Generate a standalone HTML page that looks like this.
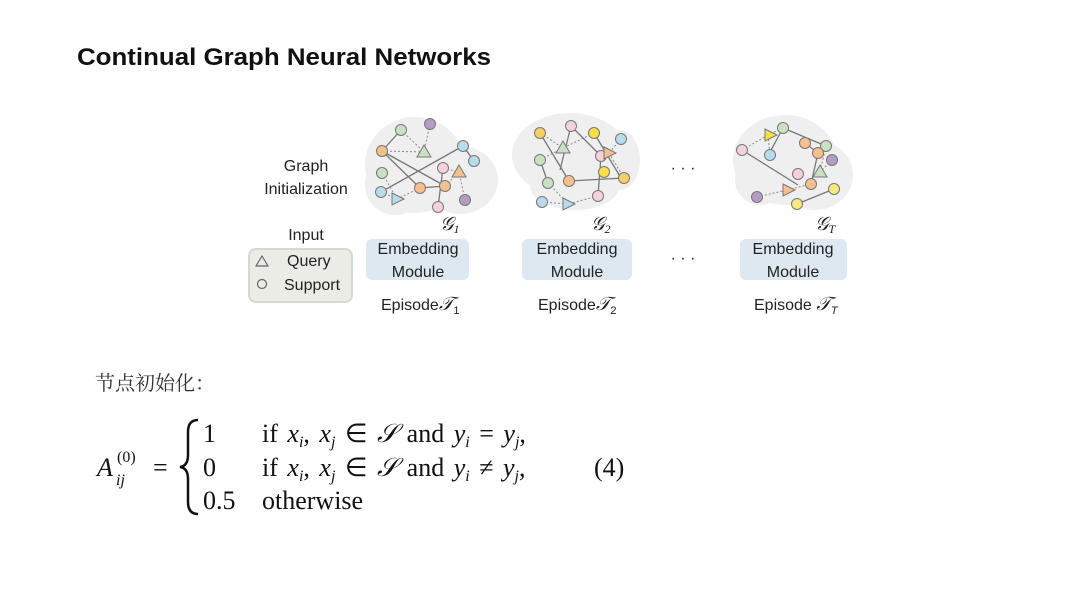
<!DOCTYPE html>
<html><head><meta charset="utf-8"><style>
html,body{margin:0;padding:0;background:#fff;width:1080px;height:608px;overflow:hidden}
</style></head><body>
<svg width="1080" height="608" viewBox="0 0 1080 608" xmlns="http://www.w3.org/2000/svg" font-family="Liberation Sans, sans-serif">
<rect width="1080" height="608" fill="#fff"/>
<text x="77" y="65" font-size="24" font-weight="bold" fill="#111" textLength="414" lengthAdjust="spacingAndGlyphs">Continual Graph Neural Networks</text>

<!-- blobs -->
<g fill="#efefef">
<ellipse cx="415" cy="165" rx="50" ry="48"/><ellipse cx="460" cy="180" rx="38" ry="34"/><ellipse cx="395" cy="185" rx="30" ry="30"/>
<ellipse cx="570" cy="155" rx="58" ry="42"/><ellipse cx="575" cy="185" rx="45" ry="25"/><ellipse cx="620" cy="160" rx="20" ry="30"/>
<ellipse cx="785" cy="160" rx="52" ry="45"/><ellipse cx="815" cy="175" rx="38" ry="35"/><ellipse cx="760" cy="180" rx="25" ry="25"/>
</g>

<!-- graph 1 edges -->
<g stroke="#777" stroke-width="1.3" fill="none">
<line x1="382" y1="151" x2="420" y2="188"/><line x1="382" y1="151" x2="401" y2="130"/><line x1="381" y1="192" x2="463" y2="146"/>
<line x1="463" y1="146" x2="474" y2="161"/><line x1="420" y1="188" x2="445" y2="186"/><line x1="438" y1="207" x2="443" y2="168"/>
<line x1="382" y1="151" x2="445" y2="186"/>
</g>
<g stroke="#888" stroke-width="1" stroke-dasharray="2,2" fill="none">
<line x1="401" y1="130" x2="424" y2="152"/><line x1="430" y1="124" x2="424" y2="152"/><line x1="382" y1="151" x2="424" y2="152"/>
<line x1="382" y1="173" x2="397" y2="199"/><line x1="381" y1="192" x2="397" y2="199"/><line x1="420" y1="188" x2="397" y2="199"/>
<line x1="443" y1="168" x2="459" y2="172"/><line x1="445" y1="186" x2="459" y2="172"/><line x1="465" y1="200" x2="459" y2="172"/>
</g>
<g stroke="#777" stroke-width="1">
<circle cx="401" cy="130" r="5.5" fill="#c8e2c0"/><circle cx="430" cy="124" r="5.5" fill="#b49cc4"/><circle cx="382" cy="151" r="5.5" fill="#f6c08c"/>
<circle cx="463" cy="146" r="5.5" fill="#b6dcee"/><circle cx="474" cy="161" r="5.5" fill="#b6dcee"/><circle cx="382" cy="173" r="5.5" fill="#c8e2c0"/>
<circle cx="443" cy="168" r="5.5" fill="#f6d0dc"/><circle cx="381" cy="192" r="5.5" fill="#b6dcee"/><circle cx="420" cy="188" r="5.5" fill="#f6c08c"/>
<circle cx="445" cy="186" r="5.5" fill="#f6c08c"/><circle cx="438" cy="207" r="5.5" fill="#f6d0dc"/><circle cx="465" cy="200" r="5.5" fill="#b49cc4"/>
<polygon points="424,145 431,157 417,157" fill="#c8e2c0"/><polygon points="459,165 466,177 452,177" fill="#f6c08c"/><polygon points="392,193 404,199 392,205" fill="#b6dcee"/>
</g>

<!-- graph 2 -->
<g stroke="#777" stroke-width="1.3" fill="none">
<line x1="571" y1="126" x2="601" y2="156"/><line x1="594" y1="133" x2="621" y2="178"/><line x1="540" y1="160" x2="548" y2="183"/>
<line x1="540" y1="133" x2="569" y2="181"/><line x1="569" y1="181" x2="624" y2="178"/><line x1="601" y1="156" x2="598" y2="196"/><line x1="571" y1="126" x2="560" y2="170"/>
</g>
<g stroke="#888" stroke-width="1" stroke-dasharray="2,2" fill="none">
<line x1="540" y1="133" x2="563" y2="148"/><line x1="540" y1="160" x2="563" y2="148"/><line x1="594" y1="133" x2="563" y2="148"/>
<line x1="621" y1="139" x2="609" y2="153"/><line x1="609" y1="153" x2="624" y2="178"/><line x1="542" y1="202" x2="568" y2="204"/><line x1="548" y1="183" x2="568" y2="204"/><line x1="598" y1="196" x2="568" y2="204"/>
</g>
<g stroke="#777" stroke-width="1">
<circle cx="540" cy="133" r="5.5" fill="#f8d060"/><circle cx="571" cy="126" r="5.5" fill="#f6d0dc"/><circle cx="594" cy="133" r="5.5" fill="#f8e040"/>
<circle cx="621" cy="139" r="5.5" fill="#b6dcee"/><circle cx="601" cy="156" r="5.5" fill="#f6d0dc"/><circle cx="540" cy="160" r="5.5" fill="#c8e2c0"/>
<circle cx="548" cy="183" r="5.5" fill="#c8e2c0"/><circle cx="569" cy="181" r="5.5" fill="#f6c08c"/><circle cx="604" cy="172" r="5.5" fill="#f8e040"/>
<circle cx="624" cy="178" r="5.5" fill="#f8d060"/><circle cx="598" cy="196" r="5.5" fill="#f6d0dc"/><circle cx="542" cy="202" r="5.5" fill="#b6dcee"/>
<polygon points="563,141 570,153 556,153" fill="#c8e2c0"/><polygon points="604,147 616,153 604,159" fill="#f6c08c"/><polygon points="563,198 575,204 563,210" fill="#b6dcee"/>
</g>

<!-- graph T -->
<g stroke="#777" stroke-width="1.3" fill="none">
<line x1="783" y1="128" x2="826" y2="146"/><line x1="742" y1="150" x2="798" y2="185"/><line x1="805" y1="143" x2="818" y2="153"/>
<line x1="818" y1="153" x2="811" y2="184"/><line x1="834" y1="189" x2="797" y2="204"/><line x1="783" y1="128" x2="770" y2="152"/>
</g>
<g stroke="#888" stroke-width="1" stroke-dasharray="2,2" fill="none">
<line x1="742" y1="150" x2="768" y2="135"/><line x1="783" y1="128" x2="768" y2="135"/><line x1="768" y1="135" x2="770" y2="155"/>
<line x1="757" y1="197" x2="787" y2="190"/><line x1="787" y1="190" x2="811" y2="184"/><line x1="826" y1="146" x2="820" y2="172"/><line x1="832" y1="160" x2="820" y2="172"/>
</g>
<g stroke="#777" stroke-width="1">
<circle cx="783" cy="128" r="5.5" fill="#c8e2c0"/><circle cx="805" cy="143" r="5.5" fill="#f6c08c"/><circle cx="826" cy="146" r="5.5" fill="#c8e2c0"/>
<circle cx="742" cy="150" r="5.5" fill="#f6d0dc"/><circle cx="770" cy="155" r="5.5" fill="#b6dcee"/><circle cx="818" cy="153" r="5.5" fill="#f6c08c"/>
<circle cx="832" cy="160" r="5.5" fill="#b49cc4"/><circle cx="798" cy="174" r="5.5" fill="#f6d0dc"/><circle cx="811" cy="184" r="5.5" fill="#f6c08c"/>
<circle cx="834" cy="189" r="5.5" fill="#f8e880"/><circle cx="757" cy="197" r="5.5" fill="#b49cc4"/><circle cx="797" cy="204" r="5.5" fill="#f8e880"/>
<polygon points="765,129 777,135 765,141" fill="#f8e040"/><polygon points="820,165 827,177 813,177" fill="#c8e2c0"/><polygon points="783,184 795,190 783,196" fill="#f6c08c"/>
</g>

<g font-size="16" fill="#222" text-anchor="middle">
<text x="306" y="171">Graph</text><text x="306" y="194">Initialization</text>
<text x="306" y="240">Input</text>
</g>
<g font-family="Liberation Serif, serif" font-style="italic" font-size="19" fill="#222">
<text x="440" y="230">𝒢<tspan font-size="12" dy="3">1</tspan></text>
<text x="591" y="230">𝒢<tspan font-size="12" dy="3">2</tspan></text>
<text x="815" y="230">𝒢<tspan font-size="12" dy="3">T</tspan></text>
</g>
<rect x="249" y="249" width="103" height="53" rx="7" fill="#ececE6" stroke="#d8d8d0" stroke-width="2"/>
<polygon points="262,256 268,266 256,266" fill="none" stroke="#666" stroke-width="1.2"/>
<circle cx="262" cy="284" r="4.5" fill="none" stroke="#666" stroke-width="1.2"/>
<g font-size="16" fill="#222">
<text x="287" y="266">Query</text><text x="284" y="290">Support</text>
</g>
<g fill="#dde8f0">
<rect x="366" y="239" width="103" height="41" rx="6"/><rect x="522" y="239" width="110" height="41" rx="6"/><rect x="740" y="239" width="107" height="41" rx="6"/>
</g>
<g font-size="16" fill="#222" text-anchor="middle">
<text x="418" y="254">Embedding</text><text x="418" y="277">Module</text>
<text x="577" y="254">Embedding</text><text x="577" y="277">Module</text>
<text x="793" y="254">Embedding</text><text x="793" y="277">Module</text>
<text x="683" y="173">· · ·</text><text x="683" y="263">· · ·</text>
</g>
<g font-size="16" fill="#222">
<text x="381" y="310">Episode<tspan font-family="Liberation Serif, serif" font-style="italic" font-size="19">𝒯</tspan><tspan font-size="11" dy="4">1</tspan></text>
<text x="538" y="310">Episode<tspan font-family="Liberation Serif, serif" font-style="italic" font-size="19">𝒯</tspan><tspan font-size="11" dy="4">2</tspan></text>
<text x="754" y="310">Episode <tspan font-family="Liberation Serif, serif" font-style="italic" font-size="19">𝒯</tspan><tspan font-size="11" dy="4" font-style="italic">T</tspan></text>
</g>

<text x="95" y="390" font-size="20" fill="#333" font-family="Noto Serif CJK SC, serif">节点初始化：</text>

<g font-family="Liberation Serif, serif" font-size="26" fill="#111">
<text x="97" y="476" font-style="italic">A</text>
<text x="117" y="462" font-size="16">(0)</text>
<text x="116" y="485" font-size="16" font-style="italic">ij</text>
<text x="153" y="476">=</text>
<path d="M198,420 Q188,420 188,432 L188,455 Q188,466 180,467 Q188,468 188,479 L188,502 Q188,514 198,514" fill="none" stroke="#111" stroke-width="2.5"/>
<text x="203" y="442">1</text><text x="203" y="476">0</text><text x="203" y="509">0.5</text>
<text x="262" y="442" word-spacing="3">if <tspan font-style="italic">x</tspan><tspan font-size="16" font-style="italic" dy="5">i</tspan><tspan dy="-5">, </tspan><tspan font-style="italic">x</tspan><tspan font-size="16" font-style="italic" dy="5">j</tspan><tspan dy="-5"> ∈ </tspan><tspan font-style="italic">𝒮</tspan> and <tspan font-style="italic">y</tspan><tspan font-size="16" font-style="italic" dy="5">i</tspan><tspan dy="-5"> = </tspan><tspan font-style="italic">y</tspan><tspan font-size="16" font-style="italic" dy="5">j</tspan><tspan dy="-5">,</tspan></text>
<text x="262" y="476" word-spacing="3">if <tspan font-style="italic">x</tspan><tspan font-size="16" font-style="italic" dy="5">i</tspan><tspan dy="-5">, </tspan><tspan font-style="italic">x</tspan><tspan font-size="16" font-style="italic" dy="5">j</tspan><tspan dy="-5"> ∈ </tspan><tspan font-style="italic">𝒮</tspan> and <tspan font-style="italic">y</tspan><tspan font-size="16" font-style="italic" dy="5">i</tspan><tspan dy="-5"> ≠ </tspan><tspan font-style="italic">y</tspan><tspan font-size="16" font-style="italic" dy="5">j</tspan><tspan dy="-5">,</tspan></text>
<text x="262" y="509">otherwise</text>
<text x="594" y="476">(4)</text>
</g>
</svg>
</body></html>
